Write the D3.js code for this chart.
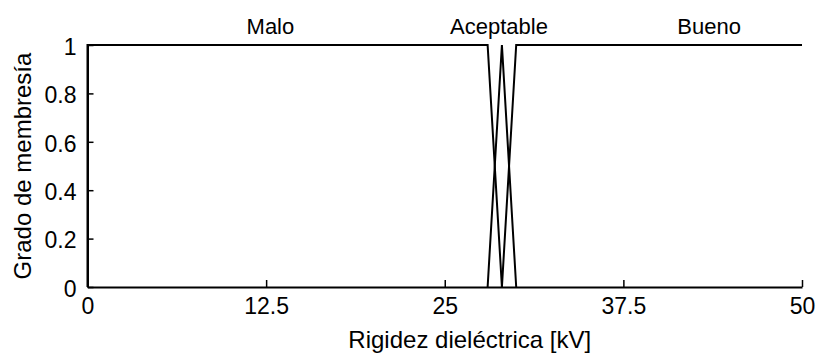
<!DOCTYPE html>
<html>
<head>
<meta charset="utf-8">
<script src="https://cdn.jsdelivr.net/npm/d3@7"></script>
<style>
  body { margin: 0; background: #fff; }
  text { font-family: Arial, "Liberation Sans", sans-serif; fill: #000; }
</style>
</head>
<body>
<div id="chart"></div>
<script>
// membership sets
let setNames = ["Malo", "Aceptable", "Bueno"];
let malo = [[0, 0], [0, 1], [28, 1], [29, 0]];
let aceptable = [[28, 0], [29, 1], [30, 0]];
let bueno = [[29, 0], [30, 1], [50, 1]];
let labelX = [12.8, 28.8, 43.5];

let xTicks = [0, 12.5, 25, 37.5, 50];
let yTicks = [0, 0.2, 0.4, 0.6, 0.8, 1];

var width = 818, height = 353;
var x = d3.scaleLinear().domain([0, 50]).range([87.5, 802]);
var y = d3.scaleLinear().domain([0, 1]).range([287, 45]);

var svg = d3.select('#chart').append('svg')
            .attr('width', width)
            .attr('height', height);

// Axes, ticks pointing inward
var xAxis = d3.axisBottom(x).tickValues(xTicks).tickSizeInner(-7).tickSizeOuter(0)
              .tickPadding(11).tickFormat(d3.format('~g'));
var yAxis = d3.axisLeft(y).tickValues(yTicks).tickSizeInner(-6).tickSizeOuter(0)
              .tickPadding(11).tickFormat(d3.format('~g'));

var gx = svg.append('g').attr('transform', `translate(0, ${y(0)})`).call(xAxis);
var gy = svg.append('g').attr('transform', `translate(${x(0)}, 0)`).call(yAxis);

[gx, gy].forEach(function(g) {
  g.select('.domain').attr('stroke', '#000').attr('stroke-width', 2);
  g.selectAll('.tick line').attr('stroke', '#000').attr('stroke-width', 1.5);
  g.selectAll('.tick text').attr('font-size', '23px').attr('font-family', 'Arial, "Liberation Sans", sans-serif').attr('fill', '#000');
});
gx.selectAll('.tick text').attr('dy', '0.71em');
gy.selectAll('.tick text').attr('dy', '0.4em');

// Membership lines
var line = d3.line().x(function(d) { return x(d[0]); }).y(function(d) { return y(d[1]); });
svg.selectAll('path.set')
   .data([malo, aceptable, bueno])
   .enter()
   .append('path')
   .attr('class', 'set')
   .attr('d', line)
   .attr('fill', 'none')
   .attr('stroke', '#000')
   .attr('stroke-width', 2);

// Set names above
svg.selectAll('text.setname')
   .data(setNames)
   .enter()
   .append('text')
   .attr('class', 'setname')
   .attr('x', function(d, i) { return x(labelX[i]); })
   .attr('y', 34)
   .attr('text-anchor', 'middle')
   .attr('font-size', '22px')
   .text(function(d) { return d; });

// Axis titles
svg.append('text')
   .attr('x', x(25) + 25)
   .attr('y', 348)
   .attr('text-anchor', 'middle')
   .attr('font-size', '24px')
   .text('Rigidez dieléctrica [kV]');

svg.append('text')
   .attr('transform', `translate(31, ${y(0.5)}) rotate(-90)`)
   .attr('text-anchor', 'middle')
   .attr('font-size', '24px')
   .text('Grado de membresía');
</script>
</body>
</html>
